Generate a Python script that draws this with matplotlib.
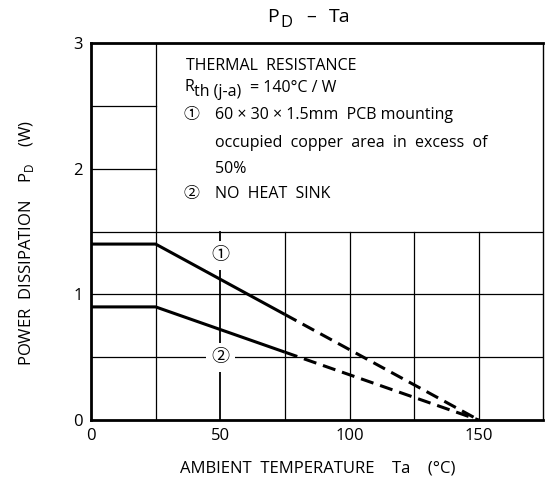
import matplotlib
matplotlib.use("Agg")
import matplotlib.pyplot as plt

plt.rcParams['font.family'] = ['Open Sans', 'Noto Sans CJK JP', 'DejaVu Sans']

# Data
ta_solid = [0, 25, 75]
pd1_solid = [1.4, 1.4, 0.84]
pd2_solid = [0.9, 0.9, 0.54]
ta_dash = [75, 150]
pd1_dash = [0.84, 0.0]
pd2_dash = [0.54, 0.0]
x_ticks = [0, 50, 100, 150]
y_ticks = [0, 1, 2, 3]

W, H = 545, 486
fig = plt.figure(figsize=(W / 100, H / 100), dpi=100)
ax = fig.add_axes([0.167, 0.1358, 0.830, 0.7757])
ax.set_xlim(0, 175)
ax.set_ylim(0, 3)

def px(x, y):
    return x / W, 1 - y / H

glw = 0.9
for xv in [25, 75, 100, 125, 150]:
    ax.plot([xv, xv], [0, 1.5], color='black', lw=glw, zorder=1)
ax.plot([25, 25], [1.5, 3], color='black', lw=glw, zorder=1)
ax.plot([50, 50], [0, 1.5], color='black', lw=1.3, zorder=1)
for yv in [0.5, 1.0, 1.5]:
    ax.plot([0, 175], [yv, yv], color='black', lw=glw, zorder=1)
for yv in [2.0, 2.5]:
    ax.plot([0, 25], [yv, yv], color='black', lw=glw, zorder=1)

ax.plot(ta_solid, pd1_solid, color='black', lw=2.2, zorder=3, solid_capstyle='butt')
ax.plot(ta_solid, pd2_solid, color='black', lw=2.2, zorder=3, solid_capstyle='butt')
ax.plot(ta_dash, pd1_dash, color='black', lw=2.2, ls=(0, (4.3, 2.3)), zorder=3)
ax.plot(ta_dash, pd2_dash, color='black', lw=2.2, ls=(0, (4.3, 2.3)), zorder=3)

bb = dict(facecolor='white', edgecolor='none', pad=4)
ax.text(50, 1.31, '①', ha='center', va='center', fontsize=13, bbox=bb, zorder=4)
ax.text(50, 0.50, '②', ha='center', va='center', fontsize=13, bbox=bb, zorder=4)

fs = 11.5
ft = dict(fontsize=fs, va='baseline', ha='left')
fig.text(*px(186, 70), 'THERMAL  RESISTANCE', **ft)
fig.text(*px(185, 91), 'R', **ft)
fig.text(*px(194, 96), 'th (j-a)', fontsize=fs, va='baseline', ha='left')
fig.text(*px(250, 92), '= 140°C / W', **ft)
fig.text(*px(184, 119), '①', **ft)
fig.text(*px(215, 119), '60 × 30 × 1.5mm  PCB mounting', **ft)
fig.text(*px(215, 147), 'occupied  copper  area  in  excess  of', **ft)
fig.text(*px(215, 173), '50%', **ft)
fig.text(*px(184, 198), '②', **ft)
fig.text(*px(215, 198), 'NO  HEAT  SINK', **ft)

for s in ['left', 'bottom', 'top']:
    ax.spines[s].set_linewidth(2.0)
ax.spines['right'].set_linewidth(1.0)

ax.set_xticks(x_ticks)
ax.set_yticks(y_ticks)
ax.tick_params(length=0, labelsize=12)
ax.tick_params(axis='x', pad=6)
ax.tick_params(axis='y', pad=6)

# title
fig.text(*px(267, 22), 'P', fontsize=14, va='baseline', ha='left')
fig.text(*px(280, 27), 'D', fontsize=12, va='baseline', ha='left')
fig.text(*px(306, 22), '–', fontsize=14, va='baseline', ha='left')
fig.text(*px(329, 22), 'Ta', fontsize=14, va='baseline', ha='left')

fig.text(0.048, 0.50, r'POWER  DISSIPATION    P$_{\mathregular{D}}$    (W)', fontsize=12,
         rotation=90, ha='center', va='center')
fig.text(0.582, 0.037, 'AMBIENT  TEMPERATURE    Ta    (°C)', fontsize=12, ha='center', va='center')

fig.savefig('out.png', dpi=100)
